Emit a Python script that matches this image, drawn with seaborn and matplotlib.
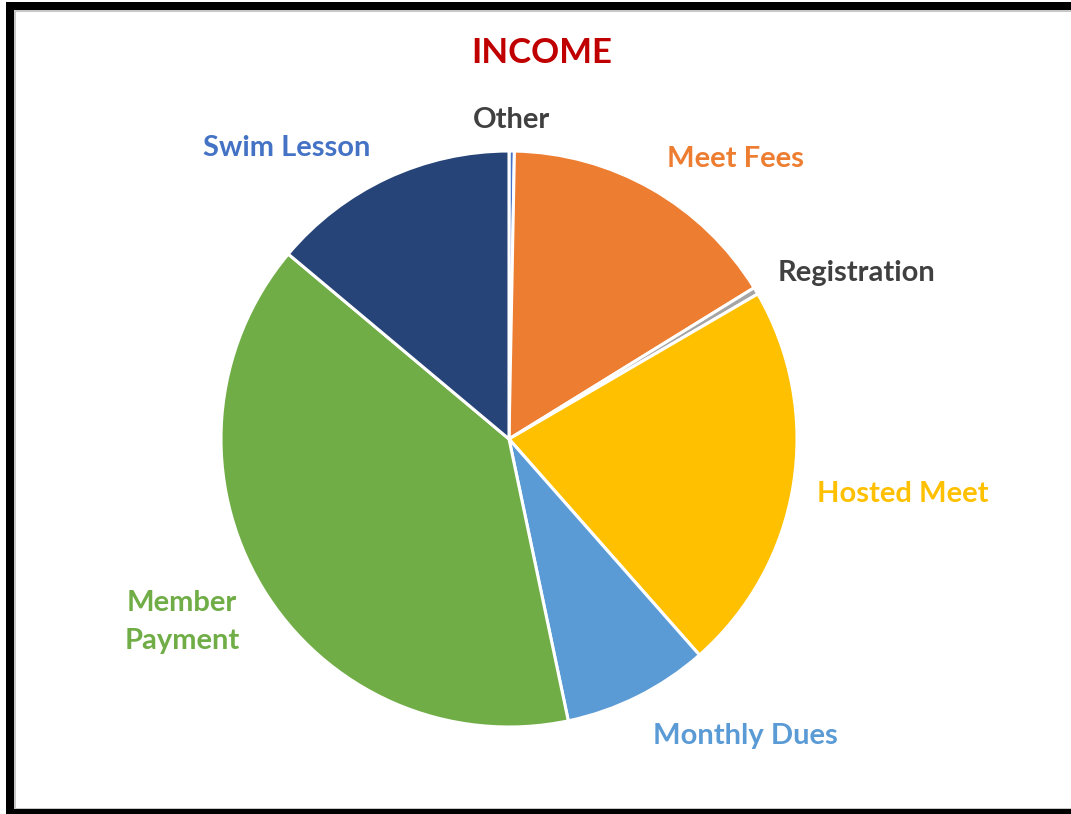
import matplotlib
matplotlib.use("Agg")
import matplotlib.pyplot as plt
from matplotlib.patches import Rectangle
import seaborn as sns

sns.set_style("white")
plt.rcParams['font.family'] = ['Lato', 'DejaVu Sans']

# ---- data ----
categories = ["Other", "Meet Fees", "Registration", "Hosted Meet",
              "Monthly Dues", "Member Payment", "Swim Lesson"]
values = [0.3, 15.9, 0.4, 21.9, 8.2, 39.4, 13.9]
slice_colors = ["#4472C4", "#ED7D31", "#A5A5A5", "#FFC000",
                "#5B9BD5", "#70AD47", "#264478"]
label_texts = ["Other", "Meet Fees", "Registration", "Hosted Meet",
               "Monthly Dues", "Member\nPayment", "Swim Lesson"]
label_colors = ["#404040", "#ED7D31", "#404040", "#FFC000",
                "#5B9BD5", "#70AD47", "#4472C4"]
title_text = "INCOME"

W, H = 1071, 814
fig = plt.figure(figsize=(W / 100, H / 100), dpi=100)
fig.patch.set_facecolor("white")
ax = fig.add_axes([0, 0, 1, 1])
ax.set_xlim(0, W)
ax.set_ylim(0, H)
ax.set_aspect("equal")
ax.axis("off")

palette = sns.color_palette(slice_colors)
cx, cy, r = 509, H - 439, 288
ax.pie(values, colors=palette, startangle=90, counterclock=False,
       center=(cx, cy), radius=r, frame=True,
       wedgeprops=dict(edgecolor="white", linewidth=2.2))
ax.set_xlim(0, W)
ax.set_ylim(0, H)
ax.axis("off")

# label positions (pixel coords, y from top)
label_pos = {
    "Other": (512, 120),
    "Meet Fees": (735, 159),
    "Registration": (856, 273),
    "Hosted Meet": (903, 494),
    "Monthly Dues": (745, 736),
    "Member Payment": (182, 622),
    "Swim Lesson": (287, 148),
}
for cat, txt, col in zip(categories, label_texts, label_colors):
    x, y = label_pos[cat]
    ax.text(x, H - y, txt, color=col, fontsize=21, fontweight="bold",
            ha="center", va="center", linespacing=1.55)

ax.text(542, H - 53, title_text, color="#C00000", fontsize=25,
        fontweight="bold", ha="center", va="center")

# frame border
def prect(x0, y0, x1, y1, color):
    fig.patches.append(Rectangle((x0 / W, 1 - y1 / H), (x1 - x0) / W, (y1 - y0) / H,
                                 transform=fig.transFigure, color=color, lw=0))

prect(6, 2, 14, H, "black")
prect(6, 2, W, 10, "black")
prect(6, 809, W, H, "black")
prect(14, 10, 15.5, 809, "#c8c8c8")
prect(14, 10, W, 11.5, "#c8c8c8")
prect(14, 807.5, W, 809, "#c8c8c8")

fig.savefig("out.png", dpi=100)
